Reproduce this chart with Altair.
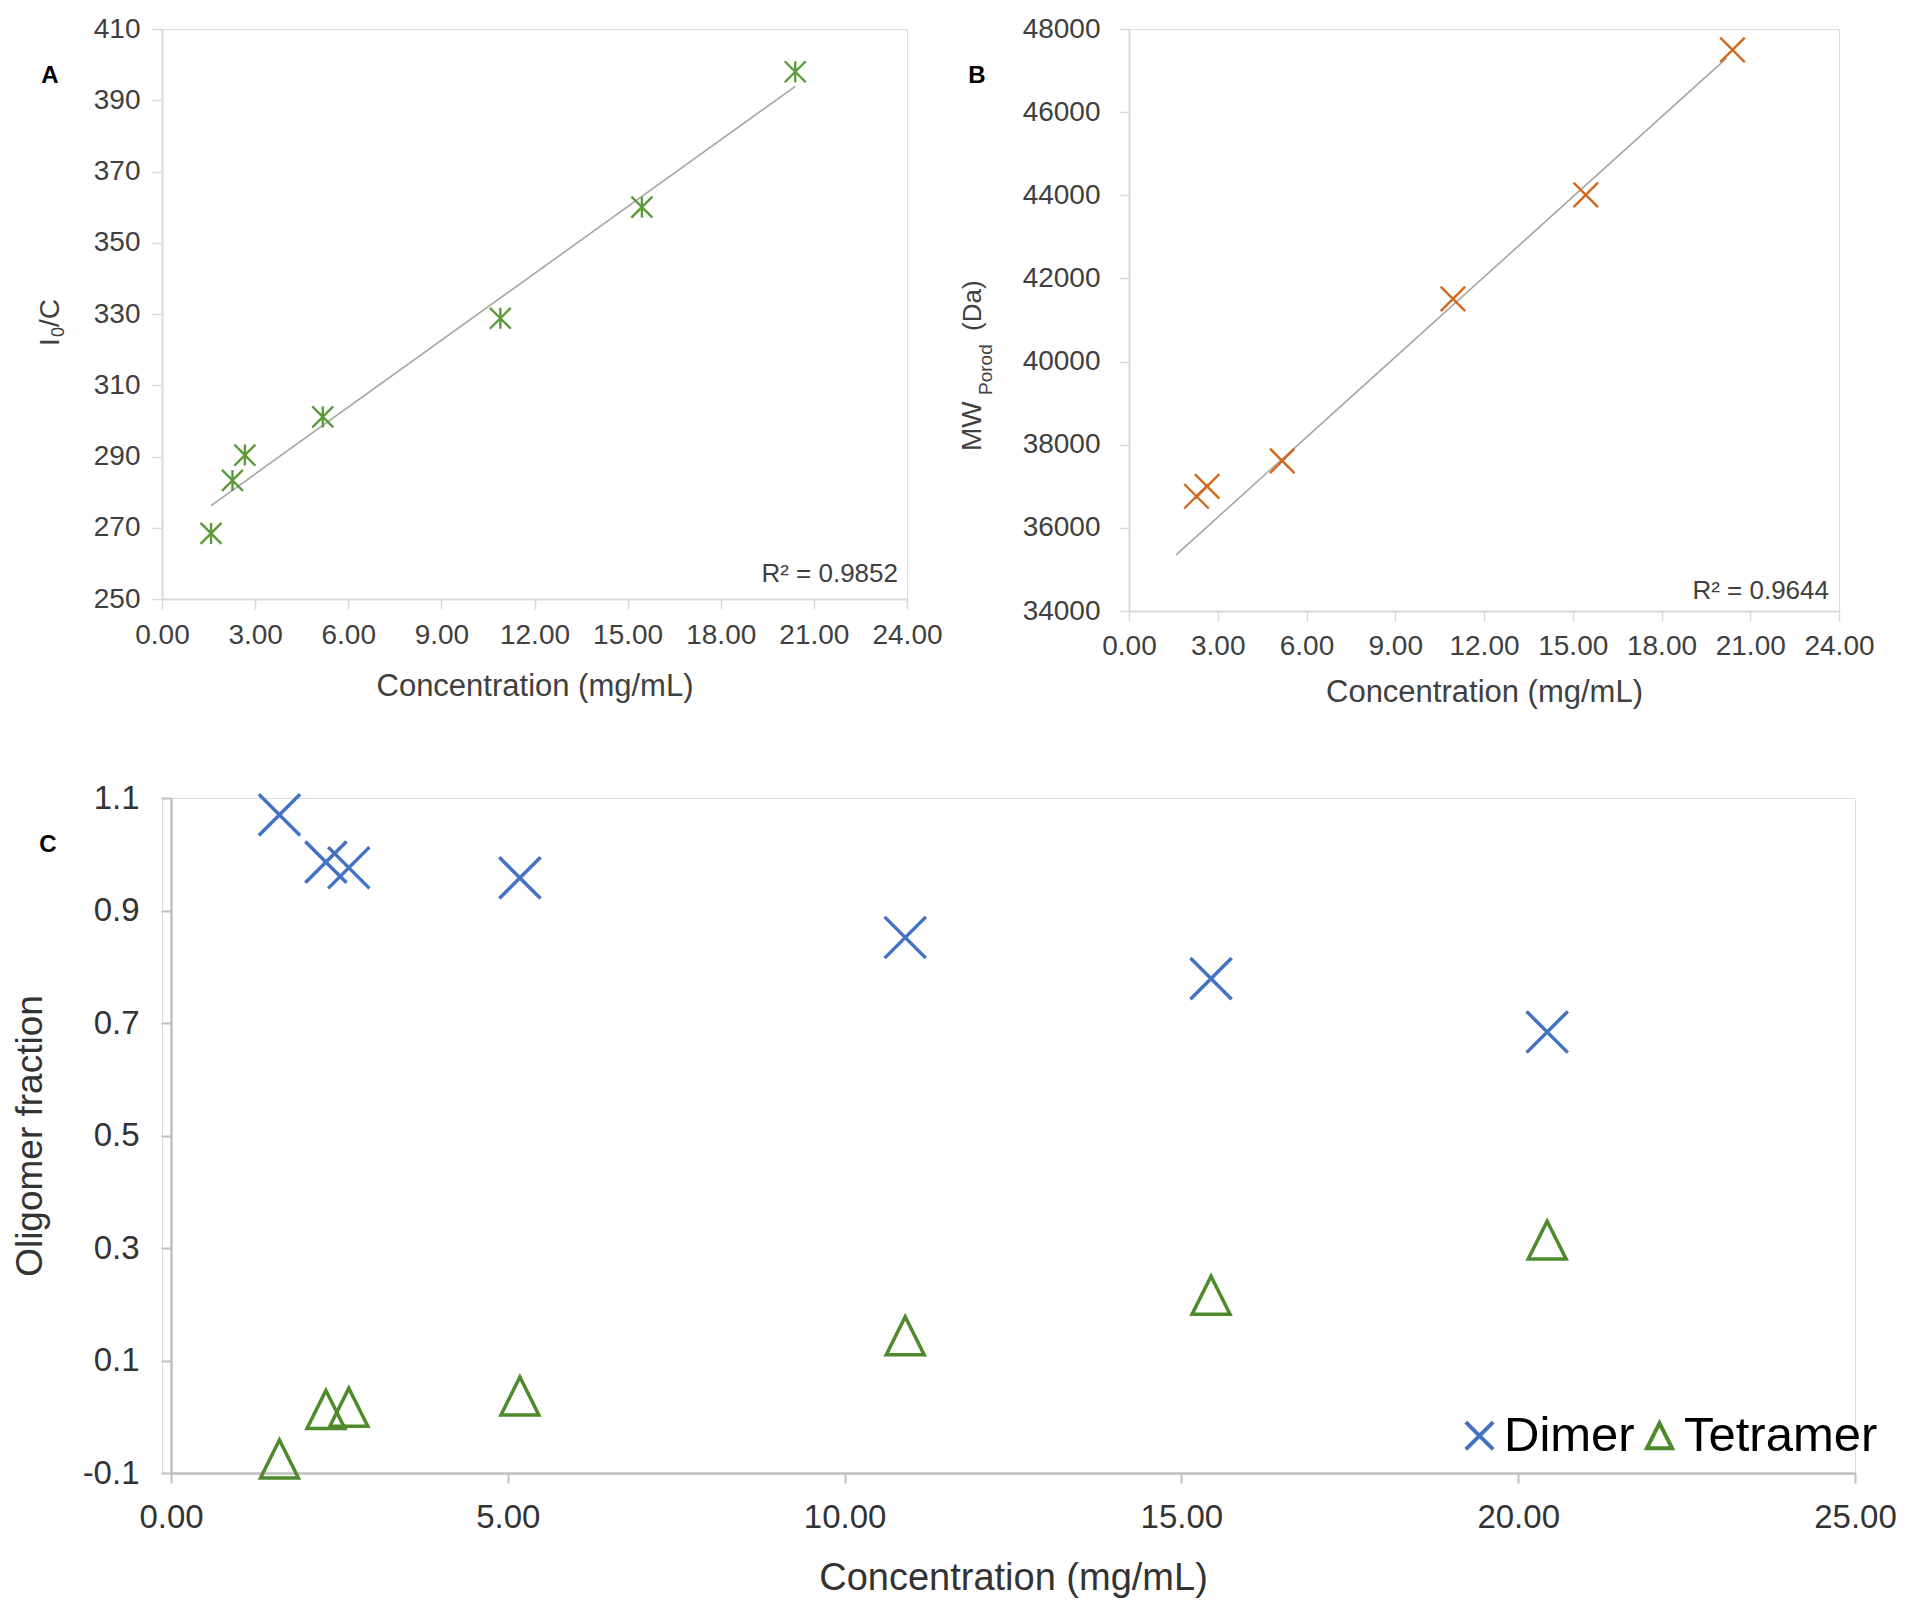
import altair as alt
import pandas as pd

FONT = "Liberation Sans"

# ---------------- data ----------------
# Panel A : I0/C vs concentration
conc_a = [1.58, 2.27, 2.67, 5.18, 10.90, 15.46, 20.40]
i0c_a = [268.4, 283.3, 290.4, 301.1, 328.8, 360.0, 398.0]
trend_a_conc = [1.58, 20.40]
trend_a_val = [276.2, 393.9]
r2_a = "R² = 0.9852"

# Panel B : MW_Porod vs concentration
conc_b = [2.28, 2.64, 5.18, 10.95, 15.44, 20.40]
mw_b = [36760, 37000, 37610, 41510, 44010, 47500]
trend_b_conc = [1.59, 20.20]
trend_b_val = [35350, 47300]
r2_b = "R² = 0.9644"

# Panel C : oligomer fractions
conc_c = [1.61, 2.30, 2.64, 5.18, 10.90, 15.44, 20.43]
dimer_c = [1.070, 0.986, 0.976, 0.958, 0.852, 0.779, 0.684]
tetramer_c = [-0.075, 0.013, 0.017, 0.037, 0.144, 0.216, 0.314]
series_names = ["Dimer", "Tetramer"]

# tick values
xticks_ab = [0, 3, 6, 9, 12, 15, 18, 21, 24]
yticks_a = [250, 270, 290, 310, 330, 350, 370, 390, 410]
yticks_b = [34000, 36000, 38000, 40000, 42000, 44000, 46000, 48000]
xticks_c = [0, 5, 10, 15, 20, 25]
yticks_c = [-0.1, 0.1, 0.3, 0.5, 0.7, 0.9, 1.1]

# ---------------- tables ----------------
df_a = pd.DataFrame({"conc": conc_a, "val": i0c_a})
df_ta = pd.DataFrame({"conc": trend_a_conc, "val": trend_a_val})
df_b = pd.DataFrame({"conc": conc_b, "val": mw_b})
df_tb = pd.DataFrame({"conc": trend_b_conc, "val": trend_b_val})
df_c = pd.DataFrame({
    "conc": conc_c + conc_c,
    "val": dimer_c + tetramer_c,
    "series": [series_names[0]] * len(dimer_c) + [series_names[1]] * len(tetramer_c),
})
one = alt.Data(values=[{}])

# ---------------- styles ----------------
GREEN_A = "#5B9B3A"
ORANGE_B = "#D2691E"
BLUE_C = "#4472C4"
GREEN_C = "#4E8A2C"
TREND = "#A6A6A6"
ASTER = "M-1,-1L1,1M-1,1L1,-1M0,-1L0,1"
XPATH = "M-1,-1L1,1M-1,1L1,-1"
TRI = "M0,-0.92L0.92,0.92L-0.92,0.92Z"

WA, HA = 745, 570
WB, HB = 710, 582
WC, HC = 1693, 675
C_SHIFT = 9  # panel C plot starts a little to the right of panel A


def ab_axis(values, fmt, title, pad, tpad=10):
    kw = dict(values=values, format=fmt, grid=False, labelFont=FONT, labelFontSize=28,
              labelColor="#404040", labelPadding=pad, labelFlush=False, labelOverlap=False,
              tickSize=10, tickWidth=1.5, tickColor="#d9d9d9", domainColor="#d9d9d9",
              domainWidth=2)
    if title:
        kw.update(title=title, titleFont=FONT, titleFontSize=31, titleFontWeight="normal",
                  titleColor="#404040", titlePadding=tpad)
    else:
        kw["title"] = None
    return alt.Axis(**kw)


def txt(text, x, y, size, angle=0, align="left", weight="normal", color="#404040"):
    return alt.Chart(one).mark_text(
        text=text, font=FONT, fontSize=size, angle=angle, align=align,
        baseline="middle", fontWeight=weight, color=color
    ).encode(x=alt.value(x), y=alt.value(y))


def spacer(x, y):
    # invisible 1px text used only to fix the layout extent of a panel
    return alt.Chart(one).mark_text(
        text=" ", font=FONT, fontSize=1, opacity=0, align="left", baseline="top"
    ).encode(x=alt.value(x), y=alt.value(y))


# ---------------- Panel A ----------------
xa = alt.X("conc:Q", scale=alt.Scale(domain=[0, 24], nice=False, zero=False),
           axis=ab_axis(xticks_ab, ".2f", "Concentration (mg/mL)", 12, 22))
ya = alt.Y("val:Q", scale=alt.Scale(domain=[250, 410], nice=False, zero=False),
           axis=ab_axis(yticks_a, "d", None, 12))
line_a = alt.Chart(df_ta).mark_line(color=TREND, strokeWidth=1.6).encode(x=xa, y=ya)
pts_a = alt.Chart(df_a).mark_point(shape=ASTER, filled=False, size=440, strokeWidth=2.4,
                                   color=GREEN_A, opacity=1).encode(x=xa, y=ya)
panel_a = alt.layer(
    line_a, pts_a,
    txt(r2_a, 736, 545, 26, align="right"),
    txt("A", -112, 47, 24, align="center", weight="bold", color="#000000"),
    txt("I", -111, 317, 28, angle=270),
    txt("0", -103, 308, 18, angle=270),
    txt("/C", -111, 298, 28, angle=270),
    spacer(-150, -15), spacer(785, 300),
).properties(width=WA, height=HA)

# ---------------- Panel B ----------------
xb = alt.X("conc:Q", scale=alt.Scale(domain=[0, 24], nice=False, zero=False),
           axis=ab_axis(xticks_ab, ".2f", "Concentration (mg/mL)", 11, 17))
yb = alt.Y("val:Q", scale=alt.Scale(domain=[34000, 48000], nice=False, zero=False),
           axis=ab_axis(yticks_b, "d", None, 19))
line_b = alt.Chart(df_tb).mark_line(color=TREND, strokeWidth=1.6).encode(x=xb, y=yb)
pts_b = alt.Chart(df_b).mark_point(shape=XPATH, filled=False, size=600, strokeWidth=2.4,
                                   color=ORANGE_B, opacity=1).encode(x=xb, y=yb)
panel_b = alt.layer(
    line_b, pts_b,
    txt(r2_b, 700, 562, 26, align="right"),
    txt("B", -152, 47, 24, align="center", weight="bold", color="#000000"),
    txt("MW", -156, 422, 28, angle=270),
    txt("Porod", -143, 366, 19, angle=270),
    txt("(Da)", -156, 302, 26, angle=270),
    spacer(-172, -15), spacer(300, 702),
).properties(width=WB, height=HB)

# ---------------- Panel C ----------------
legend_c = alt.Legend(orient="none", legendX=1293, legendY=613, direction="horizontal",
                      title=None, labelFont=FONT, labelFontSize=49, labelColor="#000000",
                      labelLimit=400, symbolSize=750, symbolStrokeWidth=4,
                      columnPadding=0, labelOffset=0, padding=0)
neg_fmt = "datum.value < 0 ? '-' + format(-datum.value, '.1f') : format(datum.value, '.1f')"
xc = alt.X("conc:Q", scale=alt.Scale(domain=[0, 25], nice=False, zero=False,
                                     range=[C_SHIFT, WC]),
           axis=alt.Axis(values=xticks_c, format=".2f", grid=False, labelFont=FONT,
                         labelFontSize=33, labelColor="#333333", labelPadding=18,
                         labelFlush=False, labelOverlap=False, tickSize=10, tickWidth=2,
                         tickColor="#bfbfbf", domainColor="#bfbfbf", domainWidth=2.5,
                         title="Concentration (mg/mL)", titleFont=FONT, titleFontSize=38,
                         titleFontWeight="normal", titleColor="#333333", titlePadding=25))
yc = alt.Y("val:Q", scale=alt.Scale(domain=[-0.1, 1.1], nice=False, zero=False),
           axis=alt.Axis(values=yticks_c, labelExpr=neg_fmt, grid=False, labelFont=FONT,
                         labelFontSize=33, labelColor="#333333", labelPadding=22,
                         labelFlush=False, labelOverlap=False, tickSize=10, tickWidth=2,
                         tickColor="#bfbfbf", domainColor="#bfbfbf", domainWidth=2.5,
                         offset=-C_SHIFT,
                         title="Oligomer fraction", titleFont=FONT, titleFontSize=37,
                         titleFontWeight="normal", titleColor="#333333", titlePadding=33))
pts_c = alt.Chart(df_c).mark_point(filled=False, size=1700, strokeWidth=3.5, opacity=1).encode(
    x=xc, y=yc,
    color=alt.Color("series:N", scale=alt.Scale(domain=series_names, range=[BLUE_C, GREEN_C]),
                    legend=legend_c),
    shape=alt.Shape("series:N", scale=alt.Scale(domain=series_names, range=[XPATH, TRI]),
                    legend=legend_c),
)
panel_c = alt.layer(
    pts_c,
    txt("C", -114, 47, 24, align="center", weight="bold", color="#000000"),
    spacer(-150, -20),
).properties(width=WC, height=HC)

top_row = alt.hconcat(panel_a, panel_b, spacing=8)
chart = alt.concat(top_row, panel_c, columns=1, spacing=44, align="none").resolve_scale(
    color="independent", shape="independent"
).resolve_legend(
    color="independent", shape="independent"
).properties(
    padding={"left": 2, "top": 5, "right": 5, "bottom": 0}
).configure_view(stroke=None).configure(font=FONT, background="white")

chart.save("out.html", embed_options={"renderer": "svg", "actions": False})
